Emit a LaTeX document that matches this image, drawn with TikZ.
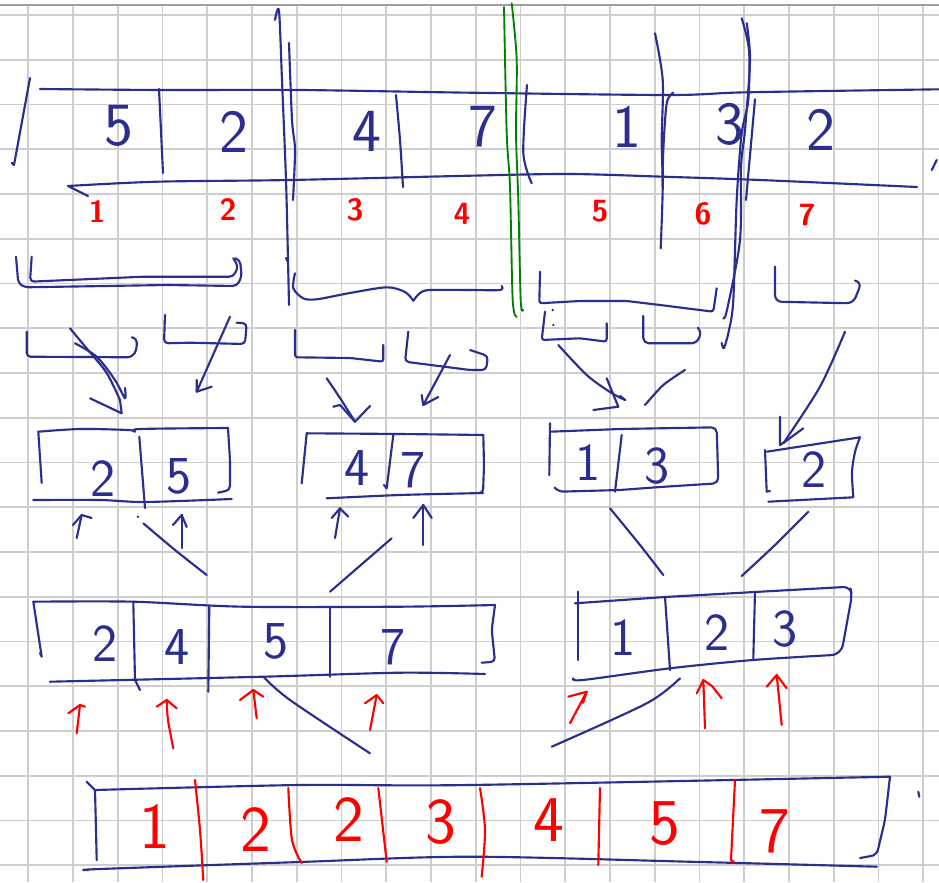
\documentclass[tikz,border=0pt]{standalone}
\usepackage{fontspec}
\definecolor{ink}{RGB}{42,46,142}
\definecolor{pen}{RGB}{255,0,0}
\definecolor{grn}{RGB}{0,130,0}
\definecolor{gridc}{RGB}{206,206,206}
\tikzset{
  inkline/.style={draw=ink,line width=1.6pt,line cap=round,line join=round},
  redline/.style={draw=pen,line width=1.6pt,line cap=round,line join=round},
  grnline/.style={draw=grn,line width=1.4pt,line cap=round,line join=round},
  gridline/.style={draw=gridc,line width=1.3pt},
  numA/.style={text=ink,inner sep=0pt,font=\sffamily\fontsize{46}{46}\selectfont},
  numB/.style={text=ink,inner sep=0pt,font=\sffamily\fontsize{40}{40}\selectfont},
  idx/.style={text=pen,inner sep=0pt,font=\sffamily\bfseries\fontsize{23}{23}\selectfont},
  numC/.style={text=pen,inner sep=0pt,font=\sffamily\fontsize{49}{49}\selectfont},
}
\begin{document}
\begin{tikzpicture}[x=0.75pt,y=-0.75pt]
\useasboundingbox (0,0) rectangle (939,882);
\fill[white] (0,0) rectangle (939,882);
% grid
\foreach \i in {0,...,20} \draw[gridline] ({28.3+44.75*\i},5) -- ({28.3+44.75*\i},882);
\foreach \j in {0,...,19} \draw[gridline] (0,{15+44.75*\j}) -- (939,{15+44.75*\j});
\draw[draw=gray!75,line width=1.5pt] (0,5) -- (939,5);

% ===== top array =====
\draw[inkline] (30,78) -- (14,165) -- (12,163);
\draw[inkline] plot[smooth,tension=0.5] coordinates {(40,89) (160,90) (300,90) (470,92.7) (670,95) (746.7,92.3) (940,89.3)};
\draw[inkline] (88,196) -- (68,186) plot[smooth,tension=0.5] coordinates {(68,186) (157,181.7) (290,180) (470,175.7) (570,174) (663,176.7) (760,180) (917,187)};
\draw[inkline] (159,89) -- (163,173);
\draw[inkline] plot[smooth,tension=0.5] coordinates {(275,20) (279,11) (282,80) (286,180) (288,260) (289,305)};
\draw[inkline] plot[smooth,tension=0.5] coordinates {(289,43) (292,120) (295,150) (293,200)};
\draw[inkline] (286,258) -- (288,262);
\draw[inkline] plot[smooth,tension=0.5] coordinates {(396,95) (400,140) (403,187)};
\draw[grnline] plot[smooth,tension=0.5] coordinates {(504,7) (506.7,133) (510,187) (512.7,300) (516.7,316.7)};
\draw[grnline] plot[smooth,tension=0.5] coordinates {(511.7,3.3) (516.7,60) (516,133) (518.3,200) (520.7,300) (523.3,310)};
\draw[inkline] plot[smooth,tension=0.5] coordinates {(527,85) (523.3,153) (531.7,183.3)};
\draw[inkline] plot[smooth,tension=0.5] coordinates {(655,33.3) (662.7,80) (661.7,140) (662.7,188.3) (660.7,248.3)};
\draw[inkline] plot[smooth,tension=0.5] coordinates {(673.3,92.7) (666.7,103.3) (663.3,150) (662.7,186.7)};
\draw[inkline] plot[smooth,tension=0.5] coordinates {(741.7,18.3) (749,50) (748.3,100) (741.7,133.3) (736.7,200) (733.3,300) (729,330) (724,348) (721.7,343)};
\draw[inkline] plot[smooth,tension=0.5] coordinates {(746.7,23.3) (750,60) (745,130) (741,167) (740,240) (727,310) (723.3,318.3)};
\draw[inkline] (755,99.3) -- (746,200);
\draw[inkline] (931.7,170) -- (936.7,160);

\node[numA] (t1) at (119,126) {5};
\node[numA] (t2) at (234,132) {2};
\node[numA] (t3) at (367,131) {4};
\node[numA] (t4) at (483,127) {7};
\node[numA] (t5) at (627,127) {1};
\node[numA] (t6) at (730,124) {3};
\node[numA] (t7) at (821,130) {2};

\node[idx] (i1) at (97,212) {1};
\node[idx] (i2) at (228,210) {2};
\node[idx] (i3) at (355,210) {3};
\node[idx] (i4) at (462,214) {4};
\node[idx] (i5) at (600,211) {5};
\node[idx] (i6) at (703,214) {6};
\node[idx] (i7) at (807,215) {7};

% ===== first split brackets =====
\draw[inkline,rounded corners=3pt] (16,256.7) -- (18.3,283.3) -- (25,287.3) -- (166.7,285) -- (236.7,286) -- (241.7,276.7) -- (240,260) -- (235,258.3);
\draw[inkline,rounded corners=3pt] (31.7,256.7) -- (30,281.7) -- (143.3,276.7) -- (233.3,276.7) -- (238.3,266.7) -- (233.3,258.3);
\draw[inkline] plot[smooth,tension=0.5] coordinates {(295,273.3) (293.3,288.3) (303.3,298.3) (316.7,299.3) (350,293) (386.7,287.3) (405,292) (413.3,300.7)};
\draw[inkline] plot[smooth,tension=0.5] coordinates {(413.3,300.7) (420,293) (430,290) (470,290) (500,290) (501.7,286)};
\draw[inkline,rounded corners=2pt] (540,271.7) -- (539.3,303.3) -- (580,301) -- (626.7,301) -- (660,305) -- (713.3,311.7) -- (716.7,288.3);
\draw[inkline,rounded corners=5pt] (775,266.7) -- (775,301.7) -- (853.3,303.3) -- (861.7,281.7) -- (855,280.7);

% ===== second split brackets =====
\draw[inkline,rounded corners=3pt] (26.7,331.7) -- (26.7,356.7) -- (131.7,357.3) -- (136.7,350) -- (136.7,338.3) -- (131.7,337.3);
\draw[inkline,rounded corners=3pt] (165,315) -- (164,343.3) -- (190,342.7) -- (245,344) -- (246.7,323.3) -- (236.7,322.7);
\draw[inkline,rounded corners=2pt] (295,330) -- (295,357.3) -- (350,358) -- (383.3,361.7) -- (383.3,345);
\draw[inkline,rounded corners=3pt] (408.3,331.7) -- (405,361.7) -- (470,370) -- (486,370) -- (488,356) -- (470,350);
\draw[inkline,rounded corners=2pt] (545,311.7) -- (541.7,340) -- (580,338.3) -- (606.7,341.7) -- (606.7,323.3);
\fill[ink] (552.7,310) circle (1.3) (553.3,325) circle (1.3);
\draw[inkline,rounded corners=4pt] (643.3,316) -- (643.3,343.3) -- (696.7,343.3) -- (701.7,331.7) -- (698.3,328.3);

% ===== arrows to pairs =====
\coordinate (a1s) at (70,328.3); \coordinate (a1e) at (121.7,413.3);
\draw[inkline] plot[smooth,tension=0.5] coordinates {(70,328.3) (88,350) (106.7,373) (120,400)};
\draw[inkline] plot[smooth,tension=0.5] coordinates {(75,343.3) (96.7,356.7) (115,380) (125,398.3) (125,388)};
\draw[inkline] (90,398.3) -- (a1e) -- (120,400);
\coordinate (a2s) at (230,316.7); \coordinate (a2e) at (196.7,391.7);
\draw[inkline] (a2s) -- (a2e);
\draw[inkline] (196.7,380) -- (a2e) -- (211.7,386.7);
\coordinate (a3s) at (326.7,378.3); \coordinate (a3e) at (355,421.7);
\draw[inkline] plot[smooth,tension=0.5] coordinates {(326.7,378.3) (340,398) (355,421.7)};
\draw[inkline] (333.3,406.7) -- (340,405) -- (a3e) -- (370,406);
\coordinate (a4s) at (450,355); \coordinate (a4e) at (423.3,405);
\draw[inkline] (a4s) -- (a4e);
\draw[inkline] (421.7,395) -- (a4e) -- (438.3,397);
\draw[inkline] plot[smooth,tension=0.5] coordinates {(558.3,345) (586.7,375) (610,392) (625,400) (620,396)};
\draw[inkline] (606.7,378.3) -- (618.3,406.7) -- (593.3,410);
\draw[inkline] plot[smooth,tension=0.5] coordinates {(685,370) (663.3,385) (645,405)};
\coordinate (a7s) at (845,331.7); \coordinate (a7e) at (783.3,443.3);
\draw[inkline] plot[smooth,tension=0.5] coordinates {(845,331.7) (820,386.7) (783.3,443.3)};
\draw[inkline] (780,416.7) -- (780,445) -- (785,441.7) -- (803.3,428.3);

% ===== pairs =====
\draw[inkline] plot[smooth,tension=0.5] coordinates {(38.3,431.7) (80,429) (128,430) (135,431.7) (140,429) (228,428)};
\draw[inkline] (38.3,431.7) -- (41.7,483);
\draw[inkline,rounded corners=3pt] (228,428) -- (230,460) -- (230,490) -- (218,492.7);
\draw[inkline] plot[smooth,tension=0.5] coordinates {(33.3,500) (100,500) (145,502) (231.7,499)};
\draw[inkline] (139.3,436.7) -- (145,508);
\node[numB] (p1) at (103,479) {2};
\node[numB] (p2) at (179,476) {5};

\draw[inkline] plot[smooth,tension=0.5] coordinates {(306.7,433.3) (400,434) (483.3,435)};
\draw[inkline] (306.7,433.3) -- (301.7,483.3);
\draw[inkline,rounded corners=3pt] (483.3,435) -- (484,465) -- (483,493.3) -- (478,493);
\draw[inkline] plot[smooth,tension=0.5] coordinates {(326.7,498.3) (400,495) (470,493.3) (483,493)};
\draw[inkline] (393.3,435) -- (386.7,488.3) -- (384,485);
\node[numB] (p3) at (357,468) {4};
\node[numB] (p4) at (413,470) {7};

\draw[inkline] (550,423.3) -- (549.3,475);
\draw[inkline,rounded corners=4pt] (550,431.7) -- (620,429) -- (716.7,427.3) -- (718.3,483.3) -- (660,487) -- (620,490) -- (558,491.7) -- (555,488);
\draw[inkline] (621.7,435) -- (615,491.7);
\node[numB] (p5) at (588,463) {1};
\node[numB] (p6) at (657,466) {3};

\draw[inkline] (766.7,451.7) -- (860,437.3);
\draw[inkline] plot[smooth,tension=0.5] coordinates {(860,437.3) (855,452) (852,472) (853.3,496.7)};
\draw[inkline] (768.3,501.7) -- (853.3,497.3);
\draw[inkline] (765,450) -- (766.7,491.7) -- (770,491);
\node[numB] (p7) at (814,470) {2};

% pointers under pairs
\draw[inkline] (76.7,538) -- (81.7,515); \draw[inkline] (73,525) -- (81.7,515) -- (91.7,518);
\draw[inkline] (181.7,548) -- (181.7,515); \draw[inkline] (173,525) -- (181.7,515) -- (186.7,527);
\draw[inkline] (335,538) -- (340,508.3); \draw[inkline] (331.7,518) -- (340,508.3) -- (348.3,516.7);
\draw[inkline] (423.3,545) -- (423.3,505); \draw[inkline] (413.3,518) -- (423.3,505) -- (431.7,518);

% merge lines
\fill[ink] (138,516.7) circle (1.3);
\draw[inkline] plot[smooth,tension=0.5] coordinates {(143.3,523.3) (175,550) (206.7,575)};
\draw[inkline] (391.7,538.3) -- (330,591.7);
\draw[inkline] plot[smooth,tension=0.5] coordinates {(610,508.3) (640,545) (663.3,575)};
\draw[inkline] plot[smooth,tension=0.5] coordinates {(808.3,511.7) (775,545) (741.7,576)};

% ===== quads =====
\draw[inkline] plot[smooth,tension=0.5] coordinates {(33.3,601.7) (133.3,601.7) (243,606.7) (400,606.7) (495,605)};
\draw[inkline] (33.3,601.7) -- (41.7,656.7) -- (40,653);
\draw[inkline,rounded corners=3pt] (495,605) -- (491.7,630) -- (495,661.7) -- (481.7,662.7);
\draw[inkline] plot[smooth,tension=0.5] coordinates {(50,681.7) (263,676.7) (400,672.7) (485,674)};
\draw[inkline] (133.3,601.7) -- (135,680) -- (140,690);
\draw[inkline] (209.3,606.7) -- (208.3,691.7);
\draw[inkline] (330,608.3) -- (330,676.7);
\node[numB] (q1) at (105,644) {2};
\node[numB] (q2) at (177,647) {4};
\node[numB] (q3) at (276,641) {5};
\node[numB] (q4) at (393,647) {7};

\draw[inkline] (578.3,591.7) -- (578.3,660);
\draw[inkline,rounded corners=5pt] (575,603.3) -- (665,597) -- (850,586.7) -- (852,595) -- (841.7,651.7) -- (833,655);
\draw[inkline] plot[smooth,tension=0.5] coordinates {(573.3,678.3) (583,680) (670,668.3) (753,660) (833.3,655)};
\draw[inkline] (665,596.7) -- (670,670);
\draw[inkline] (755,591.7) -- (753.3,658.3);
\node[numB] (q5) at (623,638) {1};
\node[numB] (q6) at (717,633) {2};
\node[numB] (q7) at (785,629) {3};

% red pointers
\draw[redline] (76.7,733.3) -- (80,705); \draw[redline] (68.3,713.3) -- (80,705) -- (85,706.7);
\draw[redline] plot[smooth,tension=0.5] coordinates {(173.3,748.3) (168,720) (166.7,700)}; \draw[redline] (156.7,706.7) -- (166.7,700) -- (176.7,708.3);
\draw[redline] (256.7,718.3) -- (253.3,690); \draw[redline] (240,700) -- (253.3,690) -- (263.3,696.7);
\draw[redline] (370,730) -- (376.7,695); \draw[redline] (365,703.3) -- (376.7,695) -- (383.3,703.3);
\draw[redline] (570,723.3) -- (586.7,691.7); \draw[redline] (568.3,696.7) -- (586.7,691.7) -- (583,703);
\draw[redline] (705,728.3) -- (703.3,680); \draw[redline] (696.7,693.3) -- (703.3,680) -- (712,686) -- (721.7,698.3);
\draw[redline] (781.7,725) -- (776.7,675); \draw[redline] (766.7,686.7) -- (776.7,675) -- (786.7,688.3);

% merge lines
\draw[inkline] plot[smooth,tension=0.5] coordinates {(263.3,676.7) (290,700) (370,753.3)};
\draw[inkline] plot[smooth,tension=0.5] coordinates {(680,678.3) (646.7,703.3) (551.7,746.7)};

% ===== result =====
\draw[inkline] (86.7,781.7) -- (95,790) -- (96,830) -- (96.7,860);
\draw[inkline] plot[smooth,tension=0.5] coordinates {(95,790) (300,785) (470,785) (890,776.7)};
\draw[inkline,rounded corners=4pt] (890,776.7) -- (885,820) -- (876.7,855) -- (860,858);
\draw[inkline] plot[smooth,tension=0.5] coordinates {(88.3,870) (100,869) (300,862) (470,856.7) (700,862) (876.7,866.7)};
\draw[redline] plot[smooth,tension=0.5] coordinates {(195,780) (200,830) (203.3,880)};
\draw[redline] plot[smooth,tension=0.5] coordinates {(288.3,788) (292,840) (301.7,863)};
\draw[redline] (378.3,788) -- (386.7,861.7);
\draw[redline] plot[smooth,tension=0.5] coordinates {(480,788) (485,830) (481.7,876.7)};
\draw[redline] (600,788) -- (598.3,865);
\draw[redline] (735,780) -- (731,860) -- (734,862);
\draw[inkline] (918.3,791.7) -- (919.3,796.7);
\node[numC] (r1) at (155,827) {1};
\node[numC] (r2) at (256,830) {2};
\node[numC] (r3) at (349,820) {2};
\node[numC] (r4) at (441,822) {3};
\node[numC] (r5) at (549,820) {4};
\node[numC] (r6) at (665,824) {5};
\node[numC] (r7) at (775,831) {7};
\end{tikzpicture}
\end{document}
